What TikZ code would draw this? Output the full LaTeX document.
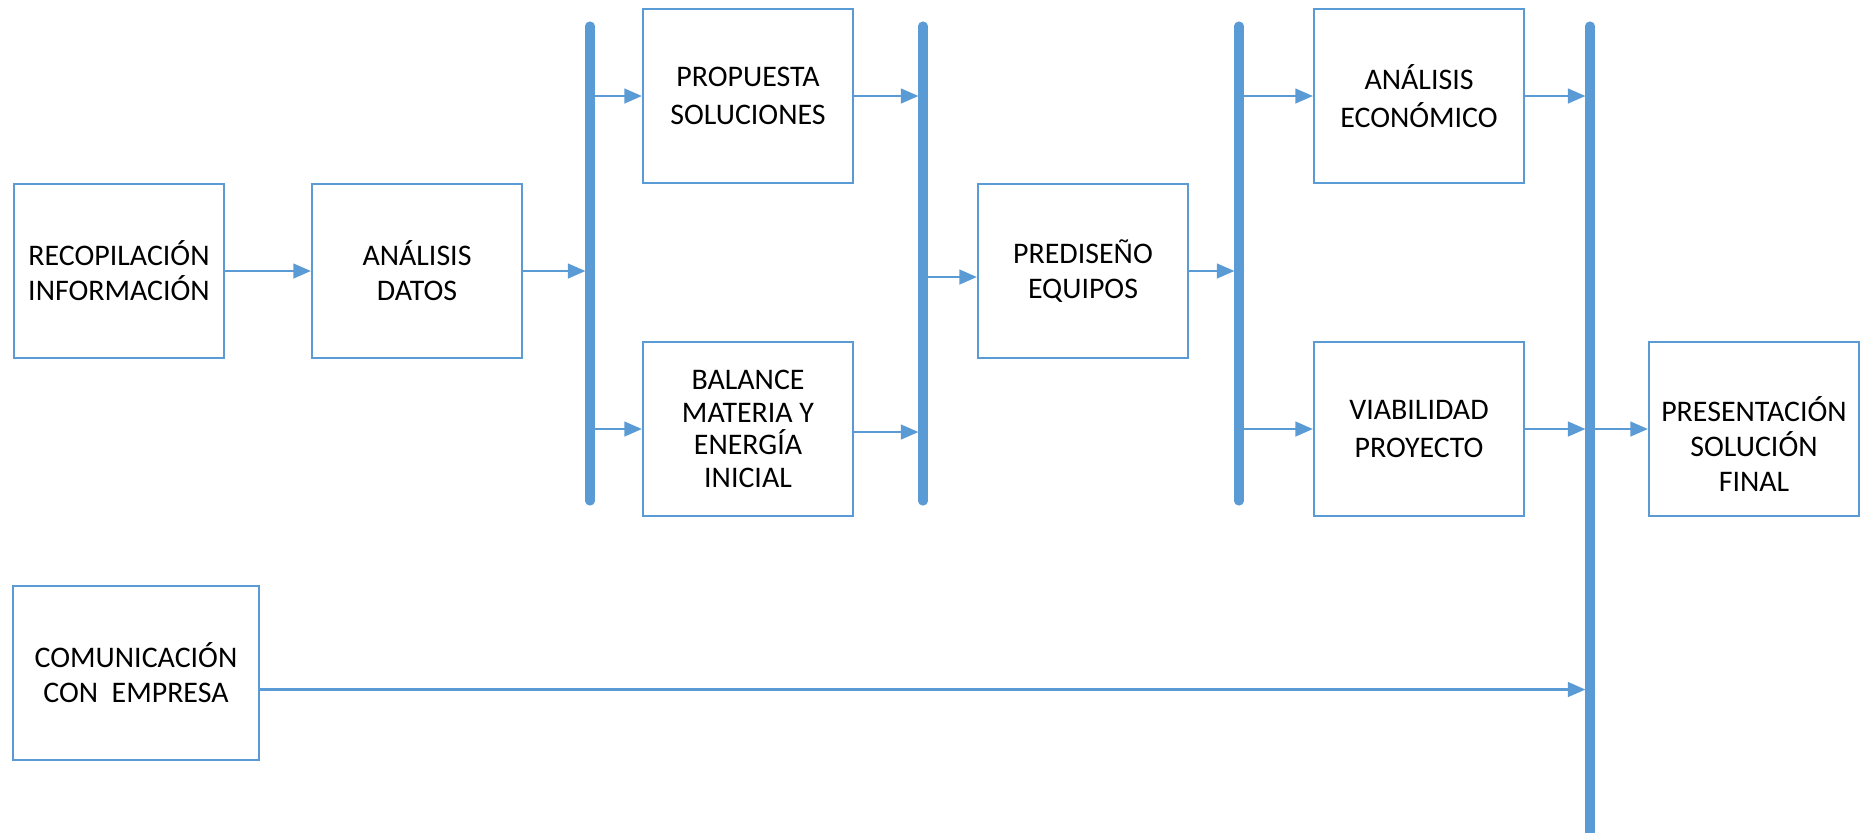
\documentclass[tikz,border=0pt]{standalone}
\usepackage{fontspec}
\setmainfont{Carlito}
\usetikzlibrary{arrows.meta,calc}
\definecolor{azul}{HTML}{5B9BD5}

\begin{document}
\begin{tikzpicture}[x=0.01cm,y=-0.01cm,
    caja/.style={draw=azul,line width=0.6pt,minimum width=2.1cm,minimum height=1.74cm,
        align=center,inner sep=0pt,font=\fontsize{8.5}{10}\selectfont},
    ancha/.style={font=\fontsize{8.5}{11}\selectfont},
    texto/.style={align=center,inner sep=0pt,font=\fontsize{8.5}{10}\selectfont},
    flecha/.style={draw=azul,line width=0.6pt,-{Triangle[length=5pt,width=4.2pt]}},
    abarra/.style={flecha,shorten >=1.3pt},
    barra/.style={draw=azul,line width=2.6pt,line cap=round}]
    \useasboundingbox (0,0) rectangle (1861,832);

    % cajas
    \node[caja] (recop) at (119,271) {RECOPILACIÓN\\INFORMACIÓN};
    \node[caja] (datos) at (417,271) {ANÁLISIS\\DATOS};
    \node[caja,ancha] (prop) at (748,96) {PROPUESTA\\SOLUCIONES};
    \node[caja,font=\fontsize{8.5}{9.3}\selectfont] (bal) at (748,429) {BALANCE\\MATERIA Y\\ENERGÍA\\INICIAL};
    \node[caja] (pred) at (1083,271) {PREDISEÑO\\EQUIPOS};
    \node[caja,ancha] (econ) at (1419,96) {ANÁLISIS\\ECONÓMICO};
    \node[caja,ancha] (viab) at (1419,429) {VIABILIDAD\\PROYECTO};
    \node[caja] (final) at (1754,429) {};
    \node[texto] (finaltxt) at ([yshift=-0.15cm]final.center) {PRESENTACIÓN\\SOLUCIÓN\\FINAL};
    \node[caja,minimum width=2.45cm] (comun) at (136,673) {COMUNICACIÓN\\CON~~EMPRESA};

    % barras
    \coordinate (b1t) at (590,26);  \coordinate (b1b) at (590,501);
    \coordinate (b2t) at (923,26);  \coordinate (b2b) at (923,501);
    \coordinate (b3t) at (1239,26); \coordinate (b3b) at (1239,501);
    \coordinate (b4t) at (1590,26); \coordinate (b4b) at (1590,845);

    \coordinate (predin) at ([yshift=-0.06cm]pred.west);
    \coordinate (comout) at ([yshift=-0.165cm]comun.east);

    % flechas
    \draw[flecha] (recop) -- (datos);
    \draw[abarra] (datos.east) -- (datos.east -| b1t);
    \draw[flecha] (b1t |- prop.west) -- (prop.west);
    \draw[flecha] (b1t |- bal.west) -- (bal.west);
    \draw[abarra] (prop.east) -- (prop.east -| b2t);
    \draw[abarra] ([yshift=-0.03cm]bal.east) -- ([yshift=-0.03cm]bal.east -| b2t);
    \draw[flecha] (b2t |- predin) -- (predin);
    \draw[abarra] (pred.east) -- (pred.east -| b3t);
    \draw[flecha] (b3t |- econ.west) -- (econ.west);
    \draw[flecha] (b3t |- viab.west) -- (viab.west);
    \draw[abarra] (econ.east) -- (econ.east -| b4t);
    \draw[abarra] (viab.east) -- (viab.east -| b4t);
    \draw[flecha] (b4t |- final.west) -- (final.west);
    \draw[abarra] (comout) -- (comout -| b4t);

    \draw[barra] (b1t) -- (b1b);
    \draw[barra] (b2t) -- (b2b);
    \draw[barra] (b3t) -- (b3b);
    \draw[barra] (b4t) -- (b4b);
\end{tikzpicture}
\end{document}
